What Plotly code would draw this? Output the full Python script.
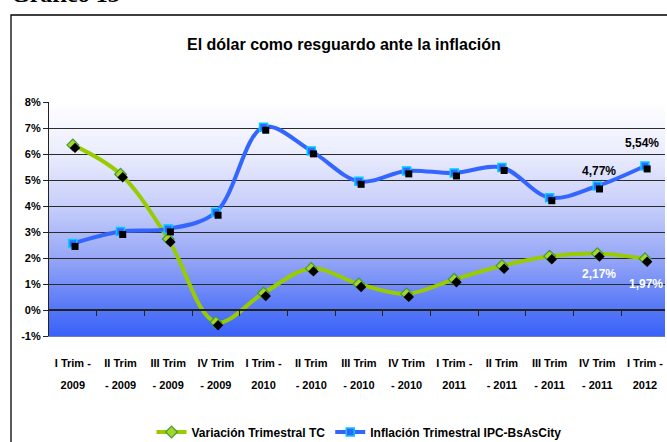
import plotly.graph_objects as go

# ---- data ----
cat_line1 = ["I Trim -", "II Trim", "III Trim", "IV Trim", "I Trim -", "II Trim", "III Trim",
             "IV Trim", "I Trim -", "II Trim", "III Trim", "IV Trim", "I Trim -"]
cat_line2 = ["2009", "- 2009", "- 2009", "- 2009", "2010", "- 2010", "- 2010",
             "- 2010", "2011", "- 2011", "- 2011", "- 2011", "2012"]
tc = [6.35, 5.22, 2.73, -0.47, 0.65, 1.60, 1.00, 0.62, 1.18, 1.70, 2.07, 2.17, 1.97]
ipc = [2.56, 3.02, 3.12, 3.76, 7.03, 6.12, 4.95, 5.35, 5.27, 5.48, 4.32, 4.77, 5.54]
y_ticks = [-1, 0, 1, 2, 3, 4, 5, 6, 7, 8]
y_ticklabels = [f"{v}%" for v in y_ticks]
name_tc = "Variación Trimestral TC"
name_ipc = "Inflación Trimestral IPC-BsAsCity"
title = "El dólar como resguardo ante la inflación"
# labelled points: (series, index, xshift, yshift, color)
labelled = [("ipc", 11, 2, 15, "black"), ("ipc", 12, -3, 23, "black"),
            ("tc", 11, 2, -20, "white"), ("tc", 12, 1, -25, "white")]

x = list(range(len(cat_line1)))
XR = [-0.5, 12.42]
YR = [-1, 8]
FONT = "Liberation Sans, Arial, sans-serif"

GREEN = "#99CC00"
BLUE = "#3366FF"

fig = go.Figure()

# shadows (offset axis range => a few pixels right/down)
dx = 2.2 / 47.7
dy = 3.0 / 26.0
fig.add_trace(go.Scatter(x=x, y=tc, mode="markers", xaxis="x2", yaxis="y2",
                         marker=dict(symbol="diamond", size=8, color="black"),
                         showlegend=False, hoverinfo="skip"))
fig.add_trace(go.Scatter(x=x, y=ipc, mode="markers", xaxis="x2", yaxis="y2",
                         marker=dict(symbol="square", size=7, color="black"),
                         showlegend=False, hoverinfo="skip"))

fig.add_trace(go.Scatter(x=x, y=tc, name=name_tc, mode="lines+markers",
                         line=dict(color=GREEN, width=4, shape="spline", smoothing=1),
                         marker=dict(symbol="diamond", size=9, color="#A8D42A",
                                     line=dict(color="#3E9B3E", width=1.2))))
fig.add_trace(go.Scatter(x=x, y=ipc, name=name_ipc, mode="lines+markers",
                         line=dict(color=BLUE, width=4, shape="spline", smoothing=1),
                         marker=dict(symbol="square", size=8, color=BLUE,
                                     line=dict(color="#00CCFF", width=1.5))))

# background gradient strips
stops = [(-1, (58, 98, 248)), (0, (84, 118, 247)), (2, (150, 167, 247)),
         (4, (199, 206, 250)), (6, (234, 236, 253)), (8, (255, 255, 255))]


def col_at(v):
    for (a, ca), (b, cb) in zip(stops[:-1], stops[1:]):
        if a <= v <= b:
            t = (v - a) / (b - a)
            return "rgb(%d,%d,%d)" % tuple(round(ca[i] + (cb[i] - ca[i]) * t) for i in range(3))
    return "rgb(255,255,255)"


shapes = []
n = 180
step = (YR[1] - YR[0]) / n
for k in range(n):
    y0 = YR[0] + k * step
    shapes.append(dict(type="rect", xref="paper", yref="y", x0=0, x1=1,
                       y0=y0, y1=min(y0 + step * 1.6, YR[1]), line=dict(width=0),
                       fillcolor=col_at(y0 + step / 2), layer="below"))

# outer frame
L, T, PW, PH = 49, 102, 616, 234
shapes.append(dict(type="rect", xref="paper", yref="paper",
                   x0=(11 - L) / PW, x1=(667 + 5 - L) / PW,
                   y0=(T + PH - 445) / PH, y1=(T + PH - 15) / PH,
                   line=dict(color="black", width=1.3), fillcolor="rgba(0,0,0,0)", layer="above"))

annotations = [
    dict(text=title, xref="paper", yref="paper", x=(343.5 - L) / PW, y=(T + PH - 44) / PH,
         showarrow=False, xanchor="center", yanchor="middle",
         font=dict(family=FONT, size=16, color="black", weight="bold")),
    dict(text="Gráfico 13", xref="paper", yref="paper", x=(9 - L) / PW, y=(T + PH - 9) / PH,
         showarrow=False, xanchor="left", yanchor="bottom",
         font=dict(family="Liberation Serif, Times New Roman, serif", size=24, color="black",
                   weight="bold")),
]
for ser, i, xs, ys, c in labelled:
    vals = ipc if ser == "ipc" else tc
    v = vals[i]
    annotations.append(dict(text=f"{v:.2f}%".replace(".", ","), x=i, y=v, xref="x", yref="y",
                            showarrow=False, xshift=xs, yshift=ys,
                            font=dict(family=FONT, size=12, color=c, weight="bold")))

tickfont = dict(family=FONT, size=11, color="black", weight="bold")

fig.update_layout(
    width=667, height=442,
    margin=dict(l=L, r=667 - L - PW, t=T, b=442 - T - PH, autoexpand=False),
    paper_bgcolor="white", plot_bgcolor="rgba(0,0,0,0)",
    showlegend=True,
    legend=dict(orientation="h", x=(359 - L) / PW, y=(T + PH - 432) / PH,
                xanchor="center", yanchor="middle",
                font=dict(family=FONT, size=12, color="black", weight="bold"),
                bgcolor="rgba(0,0,0,0)", itemwidth=30, tracegroupgap=0),
    shapes=shapes,
    annotations=annotations,
    xaxis=dict(range=XR, tickvals=x, ticktext=cat_line1, tickfont=tickfont,
               showgrid=False, zeroline=False, showline=True, linecolor="#6d7fb8", linewidth=1,
               ticks="", ticklabelstandoff=17, fixedrange=True, automargin=False),
    xaxis2=dict(range=[XR[0] - dx, XR[1] - dx], overlaying="x", anchor="y2", visible=False,
                fixedrange=True),
    xaxis3=dict(range=XR, overlaying="x", anchor="y", side="bottom", tickvals=x,
                ticktext=cat_line2, tickfont=tickfont, showgrid=False, zeroline=False,
                showline=False, ticks="", ticklabelstandoff=41, fixedrange=True,
                automargin=False),
    xaxis4=dict(range=XR, overlaying="x", anchor="free",
                position=(0 - YR[0]) / (YR[1] - YR[0]),
                tickvals=[i + 0.5 for i in x[:-1]], showticklabels=False,
                ticks="outside", ticklen=5, tickcolor="#222", tickwidth=1.2,
                showline=True, linecolor="#222", linewidth=1.5, showgrid=False,
                zeroline=False, fixedrange=True, automargin=False),
    yaxis=dict(range=YR, tickvals=y_ticks, ticktext=y_ticklabels, tickfont=tickfont,
               showgrid=True, gridcolor="#2a2a2a", gridwidth=1, zeroline=False,
               showline=True, linecolor="#222", linewidth=1.2,
               ticks="outside", ticklen=5, tickcolor="#222", fixedrange=True,
               automargin=False),
    yaxis2=dict(range=[YR[0] + dy, YR[1] + dy], overlaying="y", visible=False, fixedrange=True),
)
# attach an empty trace to xaxis3 / xaxis4 so they render
fig.add_trace(go.Scatter(x=[None], y=[None], xaxis="x3", yaxis="y", showlegend=False,
                         hoverinfo="skip"))
fig.add_trace(go.Scatter(x=[None], y=[None], xaxis="x4", yaxis="y", showlegend=False,
                         hoverinfo="skip"))

fig.write_html("out.html", config={"displayModeBar": False},
               post_script="document.body.style.margin='0';document.body.style.overflow='hidden';")
